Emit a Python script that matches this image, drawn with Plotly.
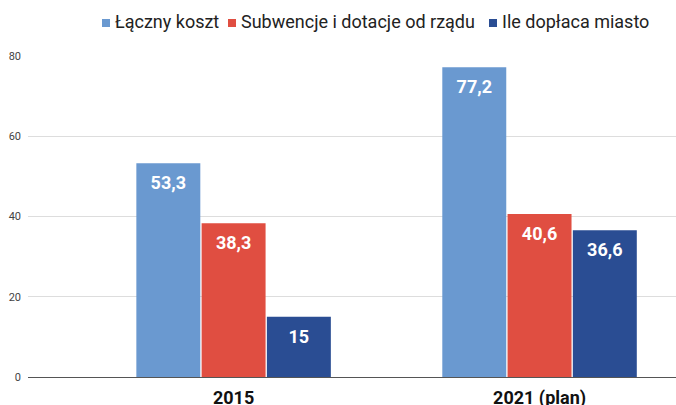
import plotly.graph_objects as go

categories = ["2015", "2021 (plan)"]
series_names = ["Łączny koszt", "Subwencje i dotacje od rządu", "Ile dopłaca miasto"]
laczny = [53.3, 77.2]
subwencje = [38.3, 40.6]
doplaca = [15, 36.6]
labels_laczny = ["53,3", "77,2"]
labels_subwencje = ["38,3", "40,6"]
labels_doplaca = ["15", "36,6"]
colors = ["#6a99d0", "#e04e41", "#2a4d93"]

# plot area in page pixels: x 28..676, y 56..377
PL, PW, PB, PH = 28, 648, 377, 321


def px_x(v):
    return (v - PL) / PW


def px_y(v):
    return (PB - v) / PH


fig = go.Figure()
for name, vals, col in zip(series_names, [laczny, subwencje, doplaca], colors):
    fig.add_trace(go.Bar(
        x=[0, 1], y=vals, name=name, marker_color=col, marker_line_width=0,
        showlegend=False, hoverinfo="y",
    ))
# value labels, grouped like the bars, placed just under each bar top
for name, vals, labs in zip(series_names, [laczny, subwencje, doplaca],
                            [labels_laczny, labels_subwencje, labels_doplaca]):
    fig.add_trace(go.Scatter(
        x=[0, 1], y=vals, text=labs, mode="markers+text", textposition="bottom center",
        marker=dict(size=18, opacity=0), name=name + " labels",
        textfont=dict(family="Roboto", size=18, color="white", weight="bold"),
        showlegend=False, hoverinfo="skip", cliponaxis=False,
    ))

# manual legend: small square + label
legend_sq_x = [102, 228, 489]
for name, col, sx in zip(series_names, colors, legend_sq_x):
    fig.add_shape(type="rect", xref="paper", yref="paper",
                  x0=px_x(sx), x1=px_x(sx + 8), y0=px_y(27), y1=px_y(19),
                  fillcolor=col, line_width=0)
    fig.add_annotation(text=name, xref="paper", yref="paper",
                       x=px_x(sx + 11), y=px_y(21.5), xanchor="left", yanchor="middle",
                       showarrow=False, font=dict(family="Roboto", size=18, color="#222"))

fig.update_layout(
    width=676, height=405,
    margin=dict(l=28, r=0, t=56, b=28, autoexpand=False),
    paper_bgcolor="white", plot_bgcolor="white",
    barmode="group", bargap=0.36, bargroupgap=0.02,
    scattermode="group", scattergap=0.36,
    font=dict(family="Roboto", color="#222"),
)
fig.update_xaxes(
    tickmode="array", tickvals=[0, 1], ticktext=categories,
    range=[-0.672, 1.446], showgrid=False, ticks="",
    tickfont=dict(family="Roboto", size=18, color="#111", weight="bold"),
    ticklabelstandoff=8,
)
fig.update_yaxes(
    range=[0, 80], tickvals=[0, 20, 40, 60, 80], showgrid=True, gridcolor="#dddddd",
    gridwidth=1, zeroline=True, zerolinecolor="#555", zerolinewidth=1,
    tickfont=dict(family="Roboto", size=11, color="#444"), ticks="",
    ticklabelstandoff=6,
)
fig.write_html(
    "out.html",
    config={"displayModeBar": False},
    post_script="document.body.style.margin='0';document.body.style.overflow='hidden';",
)
